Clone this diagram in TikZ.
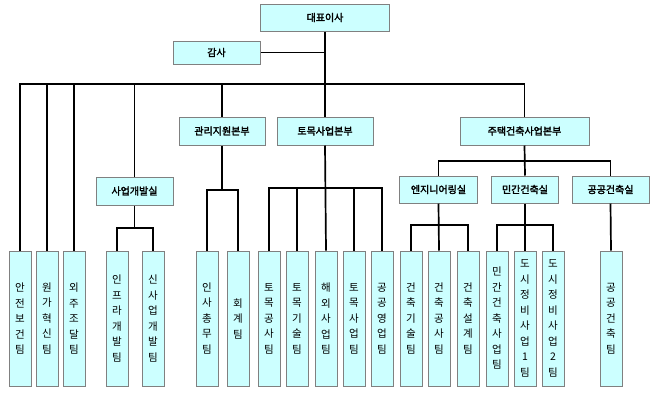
\documentclass[tikz,border=0pt]{standalone}
\usepackage{fontspec}
\newfontfamily\kr[AutoFakeBold=2.5]{Noto Sans CJK KR}
\definecolor{boxfill}{HTML}{CCFFFF}
\definecolor{boxline}{HTML}{808080}
\tikzset{
  box/.style={draw=boxline,fill=boxfill,line width=1pt,inner sep=0pt,font=\kr\bfseries\fontsize{10}{12}\selectfont},
  team/.style={draw=boxline,fill=boxfill,line width=1pt,inner sep=0pt,minimum width=22pt,minimum height=135pt,align=center,font=\kr\fontsize{10.5}{15.5}\selectfont},
  conn/.style={line width=1.7pt,black}
}
\begin{document}
\begin{tikzpicture}[x=1pt,y=-1pt]
\useasboundingbox (0,0) rectangle (663,405);
\node[box,minimum width=129pt,minimum height=27pt] (ceo) at (325,17.5) {대표이사};
\node[box,minimum width=87pt,minimum height=23pt] (audit) at (216.5,52.5) {감사};
\node[box,minimum width=86pt,minimum height=28pt] (h1) at (222,131) {관리지원본부};
\node[box,minimum width=96pt,minimum height=28pt] (h2) at (325,131) {토목사업본부};
\node[box,minimum width=129pt,minimum height=28pt] (h3) at (524.5,131) {주택건축사업본부};
\node[box,minimum width=77pt,minimum height=28pt] (d0) at (134.5,191) {사업개발실};
\node[box,minimum width=78pt,minimum height=27pt] (d1) at (438.5,189.5) {엔지니어링실};
\node[box,minimum width=67pt,minimum height=27pt] (d2) at (525,189.5) {민간건축실};
\node[box,minimum width=77pt,minimum height=27pt] (d3) at (610.5,189.5) {공공건축실};
% teams
\node[team] (a1) at (20,318.5) {안\\전\\보\\건\\팀};
\node[team] (a2) at (47,318.5) {원\\가\\혁\\신\\팀};
\node[team] (a3) at (74,318.5) {외\\주\\조\\달\\팀};
\node[team] (b1) at (117,318.5) {인\\프\\라\\개\\발\\팀};
\node[team] (b2) at (153,318.5) {신\\사\\업\\개\\발\\팀};
\node[team] (c1) at (207,318.5) {인\\사\\총\\무\\팀};
\node[team] (c2) at (238,318.5) {회\\계\\팀};
\node[team] (e1) at (269,318.5) {토\\목\\공\\사\\팀};
\node[team] (e2) at (297,318.5) {토\\목\\기\\술\\팀};
\node[team] (e3) at (326,318.5) {해\\외\\사\\업\\팀};
\node[team] (e4) at (354,318.5) {토\\목\\사\\업\\팀};
\node[team] (e5) at (382,318.5) {공\\공\\영\\업\\팀};
\node[team] (f1) at (411,318.5) {건\\축\\기\\술\\팀};
\node[team] (f2) at (439,318.5) {건\\축\\공\\사\\팀};
\node[team] (f3) at (468,318.5) {건\\축\\설\\계\\팀};
\node[team] (g1) at (497,318.5) {민\\간\\건\\축\\사\\업\\팀};
\node[team] (g2) at (525,318.5) {도\\시\\정\\비\\사\\업\\1\\팀};
\node[team] (g3) at (553,318.5) {도\\시\\정\\비\\사\\업\\2\\팀};
\node[team] (p1) at (611,318.5) {공\\공\\건\\축\\팀};
% connectors
\coordinate (bus) at (0,84);
\coordinate (busB) at (0,228);
\coordinate (busC) at (0,190);
\coordinate (busE) at (0,188);
\coordinate (busH) at (0,161);
\coordinate (busF) at (0,225);
\draw[conn] (ceo.south) -- (h2.north);
\draw[conn] (audit.east) -- (audit.east -| ceo.south);
\draw[conn] (a1.north) |- (bus -| h3.north) -- (h3.north);
\draw[conn] (a2.north) -- (a2.north |- bus);
\draw[conn] (a3.north) -- (a3.north |- bus);
\draw[conn] (d0.north) -- (d0.north |- bus);
\draw[conn] (h1.north) -- (h1.north |- bus);
\draw[conn] (d0.south) -- (d0.south |- busB);
\draw[conn] (b1.north) |- (busB -| b2.north) -- (b2.north);
\draw[conn] (h1.south) -- (h1.south |- busC);
\draw[conn] (c1.north) |- (busC -| c2.north) -- (c2.north);
\draw[conn] (h2.south) -- (e3.north);
\draw[conn] (e1.north) |- (busE -| e5.north) -- (e5.north);
\draw[conn] (e2.north) -- (e2.north |- busE);
\draw[conn] (e4.north) -- (e4.north |- busE);
\draw[conn] (h3.south) -- (d2.north);
\draw[conn] (d1.north) |- (busH -| d3.north) -- (d3.north);
\draw[conn] (d1.south) -- (f2.north);
\draw[conn] (f1.north) |- (busF -| f3.north) -- (f3.north);
\draw[conn] (d2.south) -- (g2.north);
\draw[conn] (g1.north) |- (busF -| g3.north) -- (g3.north);
\draw[conn] (d3.south) -- (p1.north);
\end{tikzpicture}
\end{document}
